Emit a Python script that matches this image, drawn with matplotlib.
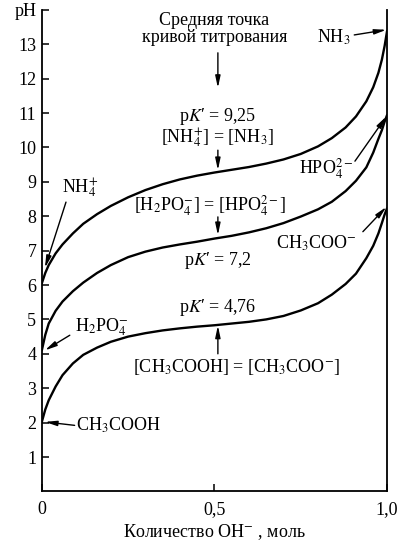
import matplotlib
matplotlib.use("Agg")
import matplotlib.pyplot as plt

plt.rcParams['font.family'] = ['Liberation Serif', 'DejaVu Serif']
plt.rcParams['mathtext.fontset'] = 'stix'

# values (mol OH- added, pH)
x_nh3 = [0, 0.01, 0.02, 0.04, 0.06, 0.09, 0.12, 0.16, 0.20, 0.25, 0.30, 0.35, 0.40, 0.45, 0.50,
         0.55, 0.60, 0.65, 0.70, 0.75, 0.80, 0.84, 0.88, 0.91, 0.94, 0.96, 0.975, 0.985, 0.993, 1.0]
ph_nh3 = [6.05, 6.35, 6.58, 6.92, 7.18, 7.50, 7.78, 8.06, 8.30, 8.55, 8.76, 8.93, 9.07, 9.18, 9.27,
          9.35, 9.43, 9.53, 9.65, 9.81, 10.03, 10.27, 10.58, 10.90, 11.34, 11.75, 12.17, 12.55, 12.95, 13.38]

x_po4 = [0, 0.01, 0.02, 0.04, 0.06, 0.09, 0.12, 0.16, 0.20, 0.25, 0.30, 0.35, 0.40, 0.45, 0.50,
         0.55, 0.60, 0.65, 0.70, 0.75, 0.80, 0.84, 0.88, 0.91, 0.94, 0.96, 0.975, 0.985, 0.993, 1.0]
ph_po4 = [4.10, 4.55, 4.88, 5.25, 5.52, 5.82, 6.07, 6.35, 6.58, 6.81, 6.97, 7.09, 7.18, 7.26, 7.35,
          7.43, 7.53, 7.65, 7.80, 7.99, 8.20, 8.42, 8.73, 9.03, 9.42, 9.85, 10.25, 10.50, 10.75, 10.94]

x_ac = [0, 0.01, 0.02, 0.04, 0.06, 0.09, 0.12, 0.16, 0.20, 0.25, 0.30, 0.35, 0.40, 0.45, 0.50,
        0.55, 0.60, 0.65, 0.70, 0.75, 0.80, 0.84, 0.88, 0.91, 0.94, 0.96, 0.975, 0.985, 0.993, 1.0]
ph_ac = [2.02, 2.38, 2.65, 3.05, 3.38, 3.72, 3.97, 4.18, 4.35, 4.50, 4.60, 4.68, 4.74, 4.79, 4.83,
         4.88, 4.93, 5.00, 5.10, 5.26, 5.47, 5.72, 6.03, 6.33, 6.78, 7.14, 7.50, 7.80, 8.05, 8.23]

yticks = list(range(1, 15))
ylabels = [str(v) for v in range(1, 14)] + ['pH']
xticks = [0, 0.5, 1.0]
xlabels = ['0', '0,5', '1,0']

fig = plt.figure(figsize=(4.10, 5.46), dpi=100)
ax = fig.add_axes([0.102, 0.1, 0.842, 0.882])

for xs, ys in [(x_nh3, ph_nh3), (x_po4, ph_po4), (x_ac, ph_ac)]:
    ax.plot(xs, ys, color='k', lw=1.7, solid_joinstyle='round', solid_capstyle='round')

ax.set_xlim(0, 1.0)
ax.set_ylim(0, 14)
ax.spines['top'].set_visible(False)
for s in ['left', 'right', 'bottom']:
    ax.spines[s].set_linewidth(1.3)
ax.set_yticks(yticks)
ax.set_yticklabels(ylabels, fontsize=13)
ax.set_xticks(xticks)
ax.set_xticklabels(xlabels, fontsize=13)
ax.tick_params(direction='in', length=5, width=1.1, pad=4)
ax.tick_params(axis='x', pad=7)
ax.set_xlabel('Количество OH$^{-}$ , моль', fontsize=13, labelpad=3)

arr = dict(arrowstyle='-|>,head_width=0.15,head_length=0.7', lw=1.0, color='k',
           shrinkA=0, shrinkB=0)
fs = 13

def note(xy, xytext):
    ax.annotate('', xy=xy, xytext=xytext, arrowprops=arr)

def label(x, y, txt, ha='center'):
    ax.text(x, y, txt, ha=ha, va='center', fontsize=fs)

ax.text(0.5, 13.45, 'Средняя точка\nкривой титрования', ha='center', va='center',
        fontsize=fs, linespacing=1.0)
note((0.51, 11.73), (0.51, 12.75))
label(0.51, 10.9, 'p$K$′ = 9,25')
label(0.51, 10.27, '[NH$_4^{+}$] = [NH$_3$]')
note((0.51, 9.34), (0.51, 9.92))

label(0.487, 8.32, '[H$_2$PO$_4^{-}$] = [HPO$_4^{2-}$]')
note((0.51, 7.45), (0.51, 7.98))
label(0.51, 6.72, 'p$K$′ = 7,2')

label(0.51, 5.36, 'p$K$′ = 4,76')
note((0.51, 4.82), (0.51, 4.0))
label(0.564, 3.62, '[CH$_3$COOH] = [CH$_3$COO$^{-}$]')

label(0.11, 8.8, 'NH$_4^{+}$')
note((0.009, 6.5), (0.07, 8.41))
label(0.175, 4.78, 'H$_2$PO$_4^{-}$')
note((0.009, 4.1), (0.081, 4.54))
label(0.1, 1.92, 'CH$_3$COOH', ha='left')
note((0.009, 2.02), (0.095, 1.92))

label(0.845, 13.2, 'NH$_3$')
note((0.998, 13.42), (0.905, 13.27))
label(0.825, 9.39, 'HPO$_4^{2-}$')
note((0.998, 10.9), (0.907, 9.6))
label(0.796, 7.2, 'CH$_3$COO$^{-}$')
note((0.998, 8.27), (0.93, 7.55))

fig.savefig('out.png', dpi=100)
